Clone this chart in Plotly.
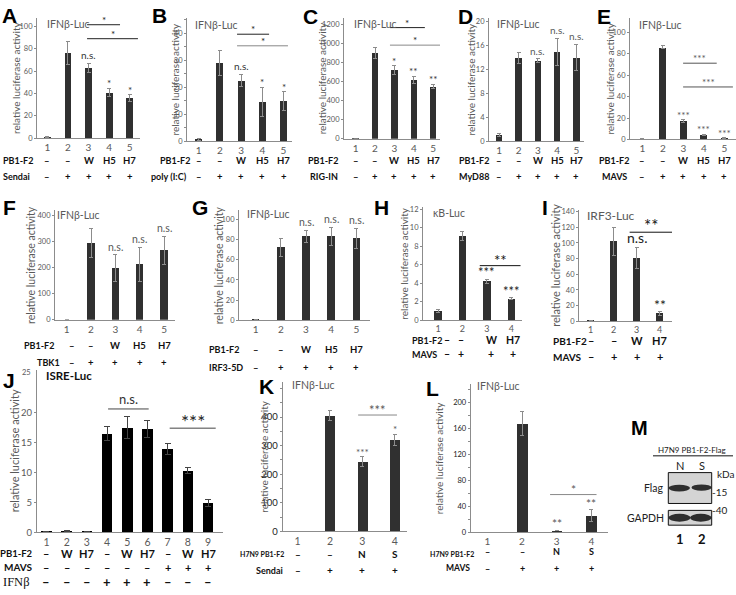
import plotly.graph_objects as go

W, H = 736, 595

# ---------------- data ----------------
A_cats = [1, 2, 3, 4, 5]
A_vals = [1, 76, 63, 41, 36]
A_err = [0.3, 10.5, 4, 3.5, 3]
A_sig = ["", "", "n.s.", "*", "*"]
A_row1 = ["–", "–", "W", "H5", "H7"]
A_row2 = ["–", "+", "+", "+", "+"]
A_brk = [[2.93, 4.53, 101.5, "*"], [2.93, 5.4, 89, "*"]]

B_cats = [1, 2, 3, 4, 5]
B_vals = [0.7, 29, 22.5, 14.5, 14.8]
B_err = [0.3, 4.5, 2.3, 5.5, 3.6]
B_sig = ["", "", "n.s.", "*", "*"]
B_row1 = ["–", "–", "W", "H5", "H7"]
B_row2 = ["–", "+", "+", "+", "+"]
B_brk = [[2.81, 4.32, 39.7, "*"], [2.81, 5.21, 35.4, "*"]]

C_cats = [1, 2, 3, 4, 5]
C_vals = [2, 900, 725, 620, 550]
C_err = [0, 55, 45, 35, 25]
C_sig = ["", "", "*", "**", "**"]
C_row1 = ["–", "–", "W", "H5", "H7"]
C_row2 = ["–", "+", "+", "+", "+"]
C_brk = [[2.77, 4.57, 1168, "*"], [2.77, 5.35, 984, "*"]]

D_cats = [1, 2, 3, 4, 5]
D_vals = [1, 13.9, 13.5, 14.9, 14.0]
D_err = [0.2, 0.9, 0.3, 2.3, 2.2]
D_sig = ["", "", "n.s.", "n.s.", "n.s."]
D_row1 = ["–", "–", "W", "H5", "H7"]
D_row2 = ["–", "+", "+", "+", "+"]

E_cats = [1, 2, 3, 4, 5]
E_vals = [0.5, 86, 17, 4.5, 1.5]
E_err = [0.2, 1.5, 1.2, 0.5, 0.3]
E_sig = ["", "", "***", "***", "***"]
E_row1 = ["–", "–", "W", "H5", "H7"]
E_row2 = ["–", "+", "+", "+", "+"]
E_brk = [[2.99, 4.63, 71.2, "***"], [2.99, 5.42, 49, "***"]]

F_cats = [1, 2, 3, 4, 5]
F_vals = [0, 293, 198, 213, 265]
F_err = [0, 55, 50, 65, 55]
F_sig = ["", "", "n.s.", "n.s.", "n.s."]
F_row1 = ["–", "–", "W", "H5", "H7"]
F_row2 = ["–", "+", "+", "+", "+"]

G_cats = [1, 2, 3, 4, 5]
G_vals = [0.5, 72, 83, 83, 81]
G_err = [0, 9, 6, 9, 10]
G_sig = ["", "", "n.s.", "n.s.", "n.s."]
G_row1 = ["–", "–", "W", "H5", "H7"]
G_row2 = ["–", "+", "+", "+", "+"]

H_cats = [1, 2, 3, 4]
H_vals = [1.0, 9.1, 4.2, 2.35]
H_err = [0.2, 0.45, 0.25, 0.08]
H_sig = ["", "", "***", "***"]
H_row1 = ["–", "–", "W", "H7"]
H_row2 = ["–", "+", "+", "+"]
H_brk = [[2.71, 4.38, 5.9, "**"]]

I_cats = [1, 2, 3, 4]
I_vals = [0.5, 102, 81, 10]
I_err = [0, 18, 13, 2]
I_sig = ["", "", "n.s.", "**"]
I_row1 = ["–", "–", "W", "H7"]
I_row2 = ["–", "+", "+", "+"]
I_brk = [[2.7, 4.54, 113.7, "**"]]

J_cats = [1, 2, 3, 4, 5, 6, 7, 8, 9]
J_vals = [0.15, 0.2, 0.15, 16.5, 17.5, 17.3, 13.9, 10.3, 4.9]
J_err = [0.05, 0.05, 0.05, 1.2, 1.9, 1.4, 0.9, 0.5, 0.6]
J_row1 = ["–", "W", "H7", "–", "W", "H7", "–", "W", "H7"]
J_row2 = ["–", "–", "–", "–", "–", "–", "+", "+", "+"]
J_row3 = ["–", "–", "–", "+", "+", "+", "–", "–", "–"]
J_brk = [[4.05, 6.06, 20.6, "n.s."], [7.1, 9.38, 17.4, "***"]]
J_ticks = [0, 5, 10, 15, 20]
J_top_label = "25"

K_cats = [1, 2, 3, 4]
K_vals = [1, 405, 245, 320]
K_err = [0, 18, 17, 20]
K_sig = ["", "", "***", "*"]
K_row1 = ["–", "–", "N", "S"]
K_row2 = ["–", "+", "+", "+"]
K_brk = [[2.87, 4.07, 407, "***"]]
K_ticks = [0, 100, 200, 300, 400]

L_cats = [1, 2, 3, 4]
L_vals = [0.5, 168, 3, 26]
L_err = [0, 18, 0.5, 9]
L_sig = ["", "", "**", "**"]
L_row1 = ["–", "–", "N", "S"]
L_row2 = ["–", "+", "+", "+"]
L_brk = [[2.81, 4.15, 58.4, "*"]]
L_ticks = [0, 40, 80, 120, 160, 200]

M_lanes = ["N", "S"]
M_lane_nums = ["1", "2"]
M_markers = ["-15", "-40"]

# ---------------- style ----------------
GRAY = "#595959"
AXC = "#8c8c8c"
BAR = "#303030"
FONT = "Lato, sans-serif"
BFONT = "Liberation Sans, Arial, sans-serif"

def fx(p):
    return p / W

def fy(p):
    return 1 - p / H

fig = go.Figure()
ann = []
shp = []


def axname(i):
    return ("x", "y") if i == 1 else (f"x{i}", f"y{i}")


def add_panel(i, cats, vals, errs, dom, xr, yr, dtick, color=BAR, width=0.33,
              errcolor="#8c8c8c", ytfs=7.5, xtfs=10, minor=None, ecap=2, ytc=GRAY,
              tickvals=None):
    xa, ya = axname(i)
    fig.add_trace(go.Bar(
        x=cats, y=vals, width=width, xaxis=xa, yaxis=ya, showlegend=False,
        marker=dict(color=color, line=dict(width=0)),
        error_y=dict(type="data", array=errs, color=errcolor, thickness=1, width=ecap)))
    x0, x1, yt, yb = dom
    xk = "xaxis" if i == 1 else f"xaxis{i}"
    yk = "yaxis" if i == 1 else f"yaxis{i}"
    yax = dict(domain=[fy(yb), fy(yt)], range=list(yr), anchor=xa, showline=True,
               linecolor=AXC, linewidth=1, ticks="outside", ticklen=2, tickcolor=AXC,
               tickfont=dict(size=ytfs, color=ytc, family=FONT),
               showgrid=False, zeroline=False, fixedrange=True)
    if tickvals is not None:
        yax["tickvals"] = tickvals
    else:
        yax["tick0"] = 0
        yax["dtick"] = dtick
    if minor:
        yax["minor"] = dict(dtick=minor, tick0=0, ticks="outside", ticklen=2, tickcolor=AXC)
    fig.update_layout(**{
        xk: dict(domain=[fx(x0), fx(x1)], range=list(xr), anchor=ya, showline=True,
                 linecolor=AXC, linewidth=1, tickvals=cats,
                 ticktext=[str(c) for c in cats], ticks="",
                 tickfont=dict(size=xtfs, color=GRAY, family=FONT),
                 showgrid=False, zeroline=False, fixedrange=True),
        yk: yax})
    return xa, ya


def sig_labels(i, cats, vals, errs, sig, size=10, color="#333", shift=0):
    xa, ya = axname(i)
    for c, v, e, s in zip(cats, vals, errs, sig):
        if s:
            ys = shift - 3 if s.startswith("*") else shift
            ann.append(dict(x=c, y=v + e, xref=xa, yref=ya, text=s, showarrow=False,
                            yanchor="bottom", yshift=ys,
                            font=dict(size=size, color=color, family=FONT)))


def brackets(i, brk, lcolor="#222", size=10, tcolor="#222", shift=-3):
    xa, ya = axname(i)
    for x0, x1, y, s in brk:
        shp.append(dict(type="line", xref=xa, yref=ya, x0=x0, x1=x1, y0=y, y1=y,
                        line=dict(color=lcolor, width=1)))
        ys = shift if s.startswith("*") else 0
        ann.append(dict(x=(x0 + x1) / 2, y=y, xref=xa, yref=ya, text=s, showarrow=False,
                        yanchor="bottom", yshift=ys,
                        font=dict(size=size, color=tcolor, family=FONT)))


def rows(i, xpos, rowvals, ypix, size=9.5, family=FONT, color="#111"):
    xa, _ = axname(i)
    for vals_, yp in zip(rowvals, ypix):
        for c, t in zip(xpos, vals_):
            ann.append(dict(x=c, y=fy(yp), xref=xa, yref="paper", text=f"<b>{t}</b>",
                            showarrow=False, yanchor="middle",
                            font=dict(size=size, color=color, family=family)))


def label(text, xp, yp, anchor="left", size=9, color="#111", family=FONT, bold=True, angle=0):
    ann.append(dict(x=fx(xp), y=fy(yp), xref="paper", yref="paper",
                    text=f"<b>{text}</b>" if bold else text, showarrow=False,
                    xanchor=anchor, yanchor="middle", textangle=angle,
                    font=dict(size=size, color=color, family=family)))


def letter(text, xp, yp, size=21):
    ann.append(dict(x=fx(xp), y=fy(yp), xref="paper", yref="paper", text=f"<b>{text}</b>",
                    showarrow=False, xanchor="left", yanchor="top",
                    font=dict(size=size, color="#000", family=BFONT)))


def ytitle(xc, yt, yb, size=10):
    label("relative luciferase activity", xc, (yt + yb) / 2, anchor="center", size=size,
          color=GRAY, bold=False, angle=-90)

# ---------------- panel A ----------------
add_panel(1, A_cats, A_vals, A_err, (37, 140, 15, 137), (0.5, 5.5), (0, 107.7), 20)
sig_labels(1, A_cats, A_vals, A_err, A_sig)
brackets(1, A_brk)
rows(1, A_cats, [A_row1, A_row2], [160, 176])
label("PB1-F2", 1, 160)
label("Sendai", 1, 176)
letter("A", 0, -1)
label("IFNβ-Luc", 45, 21.7, size=10.5, color=GRAY, bold=False)
ytitle(16, 15, 137)

# ---------------- panel B ----------------
add_panel(2, B_cats, B_vals, B_err, (187, 292, 15, 140), (0.45, 5.4), (0, 45.8), 10, minor=5)
sig_labels(2, B_cats, B_vals, B_err, B_sig)
brackets(2, B_brk[:1])
brackets(2, B_brk[1:], lcolor="#888")
rows(2, B_cats, [B_row1, B_row2], [160, 176])
label("PB1-F2", 192, 160, anchor="right")
label("poly (I:C)", 149, 176)
letter("B", 150, -1)
label("IFNβ-Luc", 193, 22.7, size=10.5, color=GRAY, bold=False)
ytitle(175, 15, 140)

# ---------------- panel C ----------------
add_panel(3, C_cats, C_vals, C_err, (344, 440, 15, 137.7), (0.4, 5.35), (0, 1271), 200)
sig_labels(3, C_cats, C_vals, C_err, C_sig)
brackets(3, C_brk[:1])
brackets(3, C_brk[1:], lcolor="#888")
rows(3, C_cats, [C_row1, C_row2], [160, 176])
label("PB1-F2", 340, 160, anchor="right")
label("RIG-IN", 340, 176, anchor="right")
letter("C", 301, 0)
label("IFNβ-Luc", 352, 21.7, size=10.5, color=GRAY, bold=False)
ytitle(322, 15, 137.7)

# ---------------- panel D ----------------
add_panel(4, D_cats, D_vals, D_err, (489, 584, 15, 140), (0.47, 5.39), (0, 20.66), 4)
sig_labels(4, D_cats, D_vals, D_err, D_sig, color=GRAY)
rows(4, D_cats, [D_row1, D_row2], [160, 176])
label("PB1-F2", 457, 160)
label("MyD88", 457, 176)
letter("D", 456, 0)
label("IFNβ-Luc", 495, 21.7, size=10.5, color=GRAY, bold=False)
ytitle(471, 15, 140)

# ---------------- panel E ----------------
add_panel(5, E_cats, E_vals, E_err, (630, 736, 15, 138.3), (0.4, 5.57), (0, 113.6), 20)
sig_labels(5, E_cats, E_vals, E_err, E_sig, color=GRAY)
brackets(5, E_brk, lcolor="#555", tcolor=GRAY)
rows(5, E_cats, [E_row1, E_row2], [160, 176])
label("PB1-F2", 631, 160, anchor="right")
label("MAVS", 629, 176, anchor="right")
letter("E", 595, 0)
label("IFNβ-Luc", 637, 22.7, size=10.5, color=GRAY, bold=False)
ytitle(610, 15, 138.3)

# ---------------- panel F ----------------
add_panel(6, F_cats, F_vals, F_err, (55, 175, 210, 321), (0.52, 5.45), (0, 419), 100, width=0.3)
sig_labels(6, F_cats, F_vals, F_err, F_sig, size=10.5, color=GRAY)
rows(6, [1.2, 2, 3, 4, 5], [F_row1, F_row2], [347, 364])
label("PB1-F2", 56, 347, anchor="right")
label("TBK1", 62, 364, anchor="right")
letter("F", 1, 194)
label("IFNβ-Luc", 55, 215, size=10.5, color=GRAY, bold=False)
ytitle(31, 210, 321, size=10.5)

# ---------------- panel G ----------------
add_panel(7, G_cats, G_vals, G_err, (239, 370, 210, 321.7), (0.34, 5.54), (0, 109), 20, width=0.3)
sig_labels(7, G_cats, G_vals, G_err, G_sig, size=10.5, color=GRAY)
rows(7, G_cats, [G_row1, G_row2], [351.7, 369])
label("PB1-F2", 207, 351.7)
label("IRF3-5D", 207, 369)
letter("G", 190, 194)
label("IFNβ-Luc", 245, 214.3, size=10.5, color=GRAY, bold=False)
ytitle(219, 210, 321.7, size=10.5)

# ---------------- panel H ----------------
add_panel(8, H_cats, H_vals, H_err, (423, 522, 206.7, 321.7), (0.385, 4.44), (0, 12.23), 2,
          width=0.3, xtfs=9)
sig_labels(8, H_cats, H_vals, H_err, H_sig, size=13, color="#222")
brackets(8, H_brk, lcolor="#111", size=15, tcolor="#111", shift=-5)
rows(8, [1.36, 1.93, 3.18, 4.08], [H_row1, H_row2], [341.7, 356], size=10.5)
label("PB1-F2", 410, 341.7, size=9)
label("MAVS", 410, 356, size=9)
letter("H", 372, 194)
label("κB-Luc", 431, 213.3, size=10.5, color=GRAY, bold=False)
ytitle(404, 206.7, 321.7)

# ---------------- panel I ----------------
add_panel(9, I_cats, I_vals, I_err, (579, 672, 210, 322.7), (0.5, 4.54), (0, 141.8), 20,
          width=0.3, xtfs=9)
sig_labels(9, I_cats, I_vals, I_err, I_sig, size=14, color="#222")
brackets(9, I_brk, lcolor="#111", size=17, tcolor="#111", shift=-6)
rows(9, I_cats, [I_row1, I_row2], [342.5, 358.5], size=11)
label("PB1-F2", 551, 342.5, size=10)
label("MAVS", 551, 358.5, size=10)
letter("I", 540, 194)
label("IRF3-Luc", 585, 215, size=12, color=GRAY, bold=False)
ytitle(556, 210, 322.7, size=11)

# ---------------- panel J ----------------
add_panel(10, J_cats, J_vals, J_err, (37, 223, 372, 536.7), (0.53, 9.74), (0, 27.1), 5,
          color="#000", width=0.53, errcolor="#444", ytfs=9.5, xtfs=10.5, ecap=3,
          tickvals=J_ticks)
label(J_top_label, 33, 375, anchor="right", size=7.5, color=GRAY, bold=False)
brackets(10, J_brk[:1], lcolor="#444", size=13, tcolor="#333")
brackets(10, J_brk[1:], lcolor="#444", size=19, tcolor="#222", shift=-7)
rows(10, J_cats, [J_row1, J_row2], [558.3, 571.7], size=11)
rows(10, J_cats, [J_row3], [586.7], size=13)
label("PB1-F2", 35, 558.3, anchor="right", size=9.5)
label("MAVS", 35, 571.7, anchor="right", size=10)
label("IFNβ", 32, 586.7, anchor="right", size=12.5, family="Liberation Serif, serif", bold=False)
letter("J", 1, 369)
label("ISRE-Luc", 44, 378, size=11.5)
ytitle(14, 372, 536.7, size=11)

# ---------------- panel K ----------------
add_panel(11, K_cats, K_vals, K_err, (282.7, 406.7, 384, 535.7), (0.54, 4.37), (0, 523), 100,
          width=0.31, ytfs=9.5, xtfs=10.5, minor=50, ytc="#222", tickvals=K_ticks)
sig_labels(11, K_cats, K_vals, K_err, K_sig, size=10, color=GRAY)
brackets(11, K_brk, lcolor="#888", size=13, tcolor=GRAY, shift=-5)
rows(11, K_cats, [K_row1, K_row2], [558.3, 575], size=10)
label("H7N9 PB1-F2", 286, 558.3, anchor="right", size=7)
label("Sendai", 285, 575, anchor="right", size=9)
letter("K", 257, 375)
label("IFNβ-Luc", 290, 387, size=10.5, color=GRAY, bold=False)
ytitle(264, 384, 535.7)

# ---------------- panel L ----------------
add_panel(12, L_cats, L_vals, L_err, (470.7, 608.3, 386, 536.7), (0.52, 4.49), (0, 229), 40,
          width=0.31, ytfs=7.5, xtfs=10, minor=20, ytc="#222", tickvals=L_ticks)
sig_labels(12, L_cats, L_vals, L_err, L_sig, size=12, color=GRAY)
brackets(12, L_brk, lcolor="#888", size=12, tcolor=GRAY, shift=-4)
rows(12, L_cats, [L_row1, L_row2], [556, 573], size=9)
label("H7N9 PB1-F2", 476, 558.3, anchor="right", size=7)
label("MAVS", 472, 573, anchor="right", size=8.5)
letter("L", 424, 377)
label("IFNβ-Luc", 475, 388, size=10.5, color=GRAY, bold=False)
ytitle(439, 386, 536.7)

# ---------------- panel M (western blot) ----------------
letter("M", 629, 418, size=20)
label("H7N9 PB1-F2-Flag", 692, 453, anchor="center", size=8, color="#222", bold=False)
shp.append(dict(type="line", xref="paper", yref="paper", x0=fx(653), x1=fx(733), y0=fy(459), y1=fy(459),
                line=dict(color="#111", width=1)))
for lx, t in zip([680, 702], M_lanes):
    label(t, lx, 469, anchor="center", size=11, color="#222", bold=False)
for lx, t in zip([680, 702], M_lane_nums):
    label(t, lx, 543, anchor="center", size=13, color="#111")
label("kDa", 715, 477, size=10, color="#222", bold=False)
label("Flag", 666, 491.7, anchor="right", size=10.5, color="#222", bold=False)
label("GAPDH", 666, 521.7, anchor="right", size=10.5, color="#222", bold=False)
label(M_markers[0], 710, 496, size=10, color="#222", bold=False)
label(M_markers[1], 710, 514, size=10, color="#222", bold=False)
for (by0, by1) in [(476, 507.3), (514.3, 529.3)]:
    shp.append(dict(type="rect", xref="paper", yref="paper", x0=fx(668.3), x1=fx(711.7),
                    y0=fy(by1), y1=fy(by0), fillcolor="#d4d4d4", line=dict(color="#111", width=1)))
for (bx0, bx1, bcy, bh) in [(668.5, 690, 491.7, 7), (691.5, 711.5, 491.2, 6.5),
                            (668.5, 690.5, 521.8, 8), (690, 711.5, 521.8, 8)]:
    shp.append(dict(type="circle", xref="paper", yref="paper", x0=fx(bx0), x1=fx(bx1),
                    y0=fy(bcy + bh / 2), y1=fy(bcy - bh / 2), fillcolor="#1c1c1c",
                    line=dict(width=0), opacity=0.9))

fig.update_layout(width=W, height=H, margin=dict(l=0, r=0, t=0, b=0),
                  paper_bgcolor="white", plot_bgcolor="white", bargap=0,
                  annotations=ann, shapes=shp, showlegend=False,
                  font=dict(family=FONT, color=GRAY))
fig.write_html("out.html", config={"displayModeBar": False},
               post_script="document.body.style.margin='0px';")
